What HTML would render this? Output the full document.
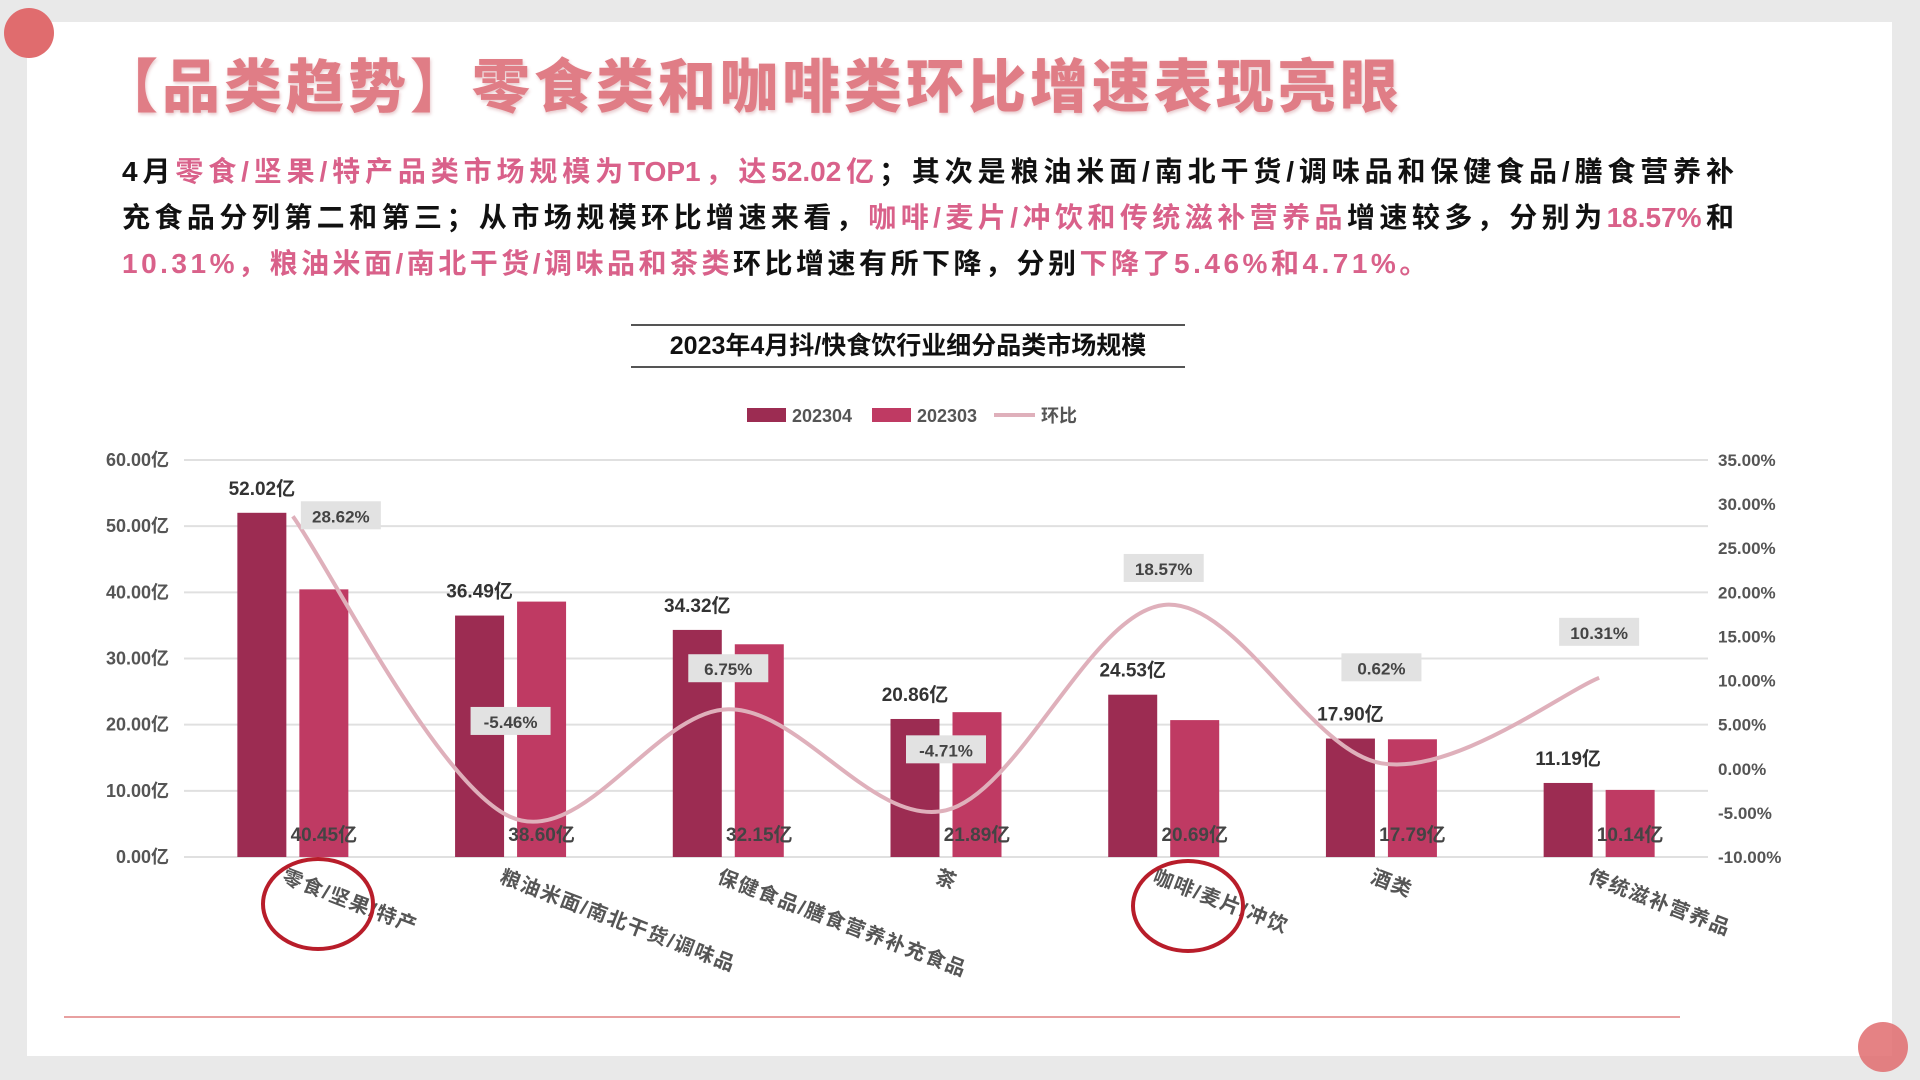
<!DOCTYPE html>
<html><head><meta charset="utf-8">
<style>
html,body{margin:0;padding:0;width:1920px;height:1080px;overflow:hidden;background:#e9e9e9;font-family:"Liberation Sans","Noto Sans CJK SC",sans-serif;}
#card{position:absolute;left:27px;top:22px;width:1865px;height:1034px;background:#fff;}
.dot{position:absolute;border-radius:50%;background:#e06c6e;}
#title{position:absolute;left:100px;top:40px;font-size:58px;font-weight:900;letter-spacing:4px;color:#e07d86;white-space:nowrap;text-shadow:1px 2px 3px rgba(180,80,90,.3);}
.pl{position:absolute;left:122px;width:1612px;font-size:28px;font-weight:bold;color:#111;white-space:nowrap;text-align:justify;text-align-last:justify;}
.pk{color:#d9618a;}
#ctitle{position:absolute;left:631px;width:554px;top:324px;height:40px;border-top:2px solid #555;border-bottom:2px solid #555;text-align:center;font-size:25px;font-weight:bold;line-height:40px;color:#111;}
svg{position:absolute;left:0;top:0;}
</style></head><body>
<div id="card"></div>
<div class="dot" style="left:4px;top:8px;width:50px;height:50px;"></div>
<div class="dot" style="left:1858px;top:1022px;width:50px;height:50px;opacity:.85"></div>
<div id="title">【品类趋势】零食类和咖啡类环比增速表现亮眼</div>
<div class="pl" style="top:150px">4月<span class="pk">零食/坚果/特产品类市场规模为TOP1，达52.02亿</span>；其次是粮油米面/南北干货/调味品和保健食品/膳食营养补</div>
<div class="pl" style="top:196px">充食品分列第二和第三；从市场规模环比增速来看，<span class="pk">咖啡/麦片/冲饮和传统滋补营养品</span>增速较多，分别为<span class="pk">18.57%</span>和</div>
<div class="pl" style="top:242px;text-align-last:left;width:auto;letter-spacing:3.5px"><span class="pk">10.31%，粮油米面/南北干货/调味品和茶类</span>环比增速有所下降，分别<span class="pk">下降了5.46%和4.71%。</span></div>
<div id="ctitle">2023年4月抖/快食饮行业细分品类市场规模</div>
<svg id="chart" width="1920" height="1080"></svg>
<script>
const categories=["零食/坚果/特产","粮油米面/南北干货/调味品","保健食品/膳食营养补充食品","茶","咖啡/麦片/冲饮","酒类","传统滋补营养品"];
const apr=[52.02,36.49,34.32,20.86,24.53,17.90,11.19];
const mar=[40.45,38.60,32.15,21.89,20.69,17.79,10.14];
const mom=[28.62,-5.46,6.75,-4.71,18.57,0.62,10.31];
const leftTicks=[0,10,20,30,40,50,60];
const rightTicks=[-10,-5,0,5,10,15,20,25,30,35];
const labelDy=[0,-95,-40,-60,-36,-95,-45];
const NS="http://www.w3.org/2000/svg";
const svg=document.getElementById('chart');
const X0=184,X1=1708,Y0=857,Y1=460;
const band=(X1-X0)/categories.length;
const cx=i=>X0+band*(i+0.5);
const yL=v=>Y0-(v/60)*(Y0-Y1);
const yR=v=>Y0-((v+10)/45)*(Y0-Y1);
function mk(t,a,txt){const e=document.createElementNS(NS,t);for(const k in a)e.setAttribute(k,a[k]);if(txt!==undefined)e.textContent=txt;svg.appendChild(e);return e;}
leftTicks.forEach(v=>{
  const g=mk('line',{x1:X0,x2:X1,y1:yL(v),y2:yL(v),stroke:'#e0e0e0','stroke-width':2});
  
  
  const t=mk('text',{x:169,y:yL(v)+6,'text-anchor':'end','font-size':18,'font-weight':'bold',fill:'#555'},v.toFixed(2)+'亿');
  
  
});
rightTicks.forEach(v=>{
  const t=mk('text',{x:1718,y:yR(v)+6,'font-size':17,'font-weight':'bold',fill:'#555'},v.toFixed(2)+'%');
  
  
});
const bw=49,gap=13;
categories.forEach((c,i)=>{
  const x=cx(i)-(bw+gap/2);
  const b1=mk('rect',{x:x,y:yL(apr[i]),width:bw,height:Y0-yL(apr[i]),fill:'#9c2c52'});
  
  
  const b2=mk('rect',{x:x+bw+gap,y:yL(mar[i]),width:bw,height:Y0-yL(mar[i]),fill:'#bf3a63'});
  
  
  const l1=mk('text',{x:x+bw/2,y:yL(apr[i])-18,'text-anchor':'middle','font-size':19,'font-weight':'bold',fill:'#333'},apr[i].toFixed(2)+'亿');
  
  
  const l2=mk('text',{x:x+bw+gap+bw/2,y:841,'text-anchor':'middle','font-size':19,'font-weight':'bold',fill:'#444'},mar[i].toFixed(2)+'亿');
  
  
  const xl=mk('text',{x:0,y:0,'font-size':20,'font-weight':'bold','letter-spacing':1.5,fill:'#555',transform:`translate(${cx(i)-12},${882}) rotate(21)`},c);
  
  
});
const pts=mom.map((v,i)=>[cx(i),yR(v)]);
let d=`M${pts[0][0]},${pts[0][1]}`;
for(let i=0;i<pts.length-1;i++){
  const p0=pts[i-1]||pts[i],p1=pts[i],p2=pts[i+1],p3=pts[i+2]||p2;
  const c1=[p1[0]+(p2[0]-p0[0])/6,p1[1]+(p2[1]-p0[1])/6];
  const c2=[p2[0]-(p3[0]-p1[0])/6,p2[1]-(p3[1]-p1[1])/6];
  d+=` C${c1[0]},${c1[1]} ${c2[0]},${c2[1]} ${p2[0]},${p2[1]}`;
}
const ln=mk('path',{d:d,fill:'none',stroke:'#dfb0bb','stroke-width':4});


mom.forEach((v,i)=>{
  const lx=i===0?cx(i)+48:cx(i), ly=i===0?yR(v):yR(v)+labelDy[i];
  const r=mk('rect',{x:lx-40,y:ly-15,width:80,height:28,fill:'#e2e2e2'});
  
  
  const t=mk('text',{x:lx,y:ly+6,'text-anchor':'middle','font-size':17,'font-weight':'bold',fill:'#444'},v.toFixed(2)+'%');
  
  
});
const lg=[[747,'#9c2c52','202304'],[872,'#bf3a63','202303']];
lg.forEach(l=>{
  const s=mk('rect',{x:l[0],y:408,width:39,height:14,fill:l[1]});
  
  
  const t=mk('text',{x:l[0]+45,y:422,'font-size':18,'font-weight':'bold',fill:'#555'},l[2]);
  
  
});
const ll=mk('line',{x1:994,x2:1035,y1:415,y2:415,stroke:'#dfb0bb','stroke-width':4});


const lt=mk('text',{x:1041,y:422,'font-size':18,'font-weight':'bold',fill:'#555'},'环比');


[[318,904],[1188,906]].forEach(p=>{
  const e=mk('ellipse',{cx:p[0],cy:p[1],rx:55,ry:45,fill:'none',stroke:'#b81d2a','stroke-width':4});
  
  
});
const bl=mk('line',{x1:64,x2:1680,y1:1017,y2:1017,stroke:'#e8a0a0','stroke-width':2});


</script>
</body></html>
